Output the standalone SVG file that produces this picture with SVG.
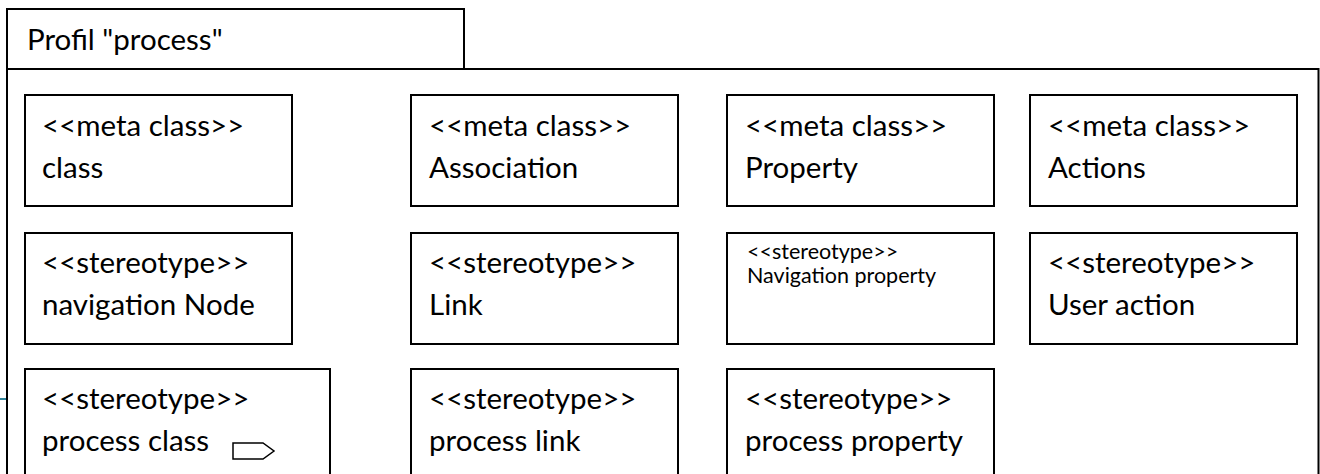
<svg xmlns="http://www.w3.org/2000/svg" width="1320" height="474" viewBox="0 0 1320 474">
<style>
.frame{fill:none;stroke:#000;stroke-width:2}
.box{fill:#fff;stroke:#000;stroke-width:2}
.t{font-family:Lato,"Liberation Sans",sans-serif;font-size:29.5px;fill:#000}
.s{font-family:Lato,"Liberation Sans",sans-serif;font-size:21.5px;fill:#000}
</style>
<rect width="1320" height="474" fill="#fff"/>
<g id="profile">
<rect class="frame" x="7" y="9" width="457" height="60"/>
<path class="frame" d="M7,69 V480 M7,69 H1318.5 V480"/>
<text class="t" x="27" y="50">Profil "process"</text>
</g>
<g id="connectors">
<line x1="0" y1="399" x2="6" y2="399" stroke="#31849B" stroke-width="2"/>
</g>
<g id="mc-class"><rect class="box" x="25" y="95" width="267" height="111"/><text class="t" x="42" y="136">&lt;&lt;meta class&gt;&gt;</text><text class="t" x="42" y="178">class</text></g>
<g id="mc-association"><rect class="box" x="411" y="95" width="267" height="111"/><text class="t" x="429" y="136">&lt;&lt;meta class&gt;&gt;</text><text class="t" x="429" y="178">Association</text></g>
<g id="mc-property"><rect class="box" x="727" y="95" width="267" height="111"/><text class="t" x="745" y="136">&lt;&lt;meta class&gt;&gt;</text><text class="t" x="745" y="178">Property</text></g>
<g id="mc-actions"><rect class="box" x="1030" y="95" width="267" height="111"/><text class="t" x="1048" y="136">&lt;&lt;meta class&gt;&gt;</text><text class="t" x="1048" y="178">Actions</text></g>
<g id="st-navnode"><rect class="box" x="25" y="233" width="267" height="111"/><text class="t" x="42" y="273">&lt;&lt;stereotype&gt;&gt;</text><text class="t" x="42" y="315">navigation Node</text></g>
<g id="st-link"><rect class="box" x="411" y="233" width="267" height="111"/><text class="t" x="429" y="273">&lt;&lt;stereotype&gt;&gt;</text><text class="t" x="429" y="315">Link</text></g>
<g id="st-navprop"><rect class="box" x="727" y="233" width="267" height="111"/><text class="s" x="747" y="259">&lt;&lt;stereotype&gt;&gt;</text><text class="s" x="747" y="283">Navigation property</text></g>
<g id="st-useraction"><rect class="box" x="1030" y="233" width="267" height="111"/><text class="t" x="1048" y="273">&lt;&lt;stereotype&gt;&gt;</text><text class="t" x="1048" y="315">User action</text></g>
<g id="st-processclass"><rect class="box" x="25" y="369" width="305" height="120"/><text class="t" x="42" y="409">&lt;&lt;stereotype&gt;&gt;</text><text class="t" x="42" y="451">process class</text><path d="M233,443 H263 L274,451 L263,459 H233 Z" fill="none" stroke="#000" stroke-width="1.5"/></g>
<g id="st-processlink"><rect class="box" x="411" y="369" width="267" height="120"/><text class="t" x="429" y="409">&lt;&lt;stereotype&gt;&gt;</text><text class="t" x="429" y="451">process link</text></g>
<g id="st-processprop"><rect class="box" x="727" y="369" width="267" height="120"/><text class="t" x="745" y="409">&lt;&lt;stereotype&gt;&gt;</text><text class="t" x="745" y="451">process property</text></g>
</svg>
